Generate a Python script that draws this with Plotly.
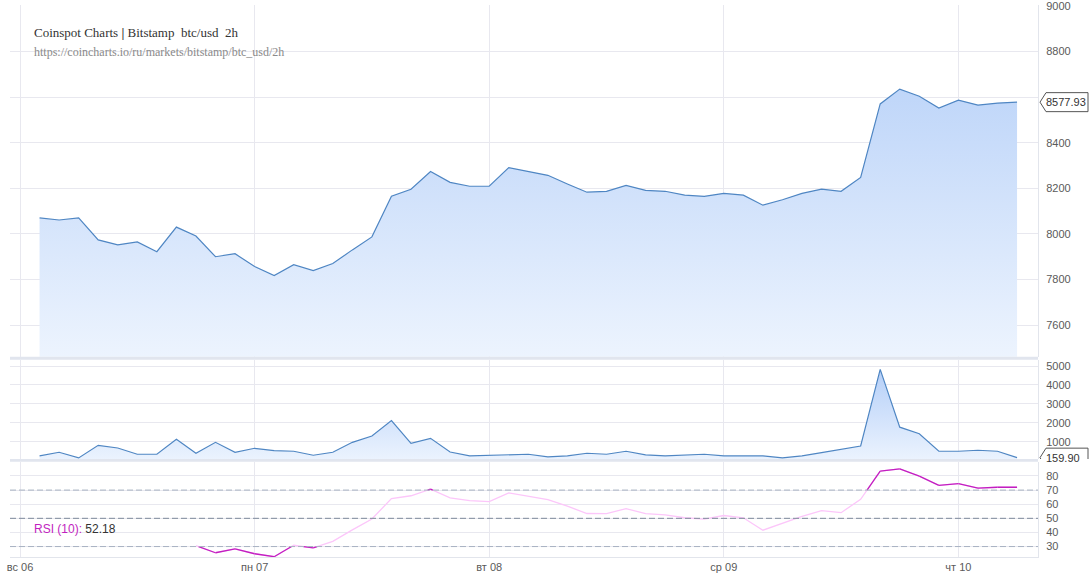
import plotly.graph_objects as go
from plotly.subplots import make_subplots
import pandas as pd

# ---------------- data ----------------
first_time = "2019-10-06 02:00"
n_points = 51
price = [8070, 8061, 8070, 7974, 7952, 7965, 7922, 8030, 7991, 7900,
         7913, 7857, 7817, 7865, 7839, 7870, 7930, 7987, 8165, 8196,
         8274, 8226, 8209, 8209, 8291, 8274, 8257, 8219, 8183, 8187,
         8213, 8191, 8187, 8170, 8165, 8178, 8170, 8126, 8150, 8178,
         8196, 8187, 8248, 8570, 8635, 8604, 8552, 8587, 8565, 8574, 8577.93]
volume = [251, 445, 146, 811, 670, 340, 340, 1126, 392, 969,
          445, 654, 529, 497, 287, 445, 969, 1300, 2121, 916,
          1178, 460, 251, 287, 310, 340, 199, 251, 392, 340,
          497, 303, 251, 287, 340, 251, 251, 251, 146, 251,
          424, 618, 775, 4823, 1770, 1419, 497, 497, 550, 497, 159.90]
rsi = [None] * 8 + [30.7, 25.6, 28.4, 24.9, 22.8, 30.9, 29.1, 33.7, 41.8, 49.5,
                    64.0, 66.0, 70.7, 64.5, 62.6, 61.8, 68.0, 65.9, 63.3, 58.6,
                    53.4, 53.3, 56.8, 53.3, 52.4, 50.4, 49.4, 52.0, 50.4, 41.6,
                    46.4, 51.3, 55.5, 54.0, 63.5, 83.4, 85.0, 79.9, 73.4, 74.6,
                    71.4, 72.0, 72.0]
rsi_label_value = "52.18"
day_ticks = ["2019-10-06", "2019-10-07", "2019-10-08", "2019-10-09", "2019-10-10"]
day_labels = ["вс 06", "пн 07", "вт 08", "ср 09", "чт 10"]
price_ticks = [7600, 7800, 8000, 8200, 8400, 8600, 8800, 9000]
price_tick_labels = ["7600", "7800", "8000", "8200", "8400", "", "8800", "9000"]
volume_ticks = [1000, 2000, 3000, 4000, 5000]
rsi_ticks = [30, 40, 50, 60, 70, 80]
rsi_levels = [70, 50, 30]

times = pd.date_range(first_time, periods=n_points, freq="2h")

# ---------------- RSI highlight segments (outside 30..70) ----------------
tms = [t.value / 1e6 for t in times]  # ms
dark_x, dark_y = [], []


def add_seg(t0, v0, t1, v1):
    dark_x.extend([pd.to_datetime(t0, unit="ms"), pd.to_datetime(t1, unit="ms"), None])
    dark_y.extend([v0, v1, None])


for k in range(len(rsi) - 1):
    a, b = rsi[k], rsi[k + 1]
    if a is None or b is None:
        continue
    t0, t1 = tms[k], tms[k + 1]
    for lev, above in ((70, True), (30, False)):
        ina = a > lev if above else a < lev
        inb = b > lev if above else b < lev
        if ina and inb:
            add_seg(t0, a, t1, b)
        elif ina or inb:
            f = (lev - a) / (b - a)
            tc = t0 + f * (t1 - t0)
            if ina:
                add_seg(t0, a, tc, lev)
            else:
                add_seg(tc, lev, t1, b)

# ---------------- figure ----------------
W, H = 1091, 582
ml, mr, mt, mb = 10, 53, 0, 25
ph = H - mt - mb


def frac(px_from_top):
    return (H - mb - px_from_top) / ph


fig = make_subplots(rows=3, cols=1, shared_xaxes=True, vertical_spacing=0)

line_col = "#4f86c3"
axis_font = dict(family="Liberation Sans, Arial, sans-serif", size=11, color="#5a5a5a")
grid_col = "#e8e8ef"

fig.add_trace(go.Scatter(
    x=times, y=price, mode="lines", line=dict(color=line_col, width=1.2),
    fill="tozeroy",
    fillgradient=dict(type="vertical", start=7461, stop=8640,
                      colorscale=[[0, "#edf4fe"], [1, "#bfd6f9"]]),
    hoverinfo="skip", showlegend=False), row=1, col=1)

fig.add_trace(go.Scatter(
    x=times, y=volume, mode="lines", line=dict(color=line_col, width=1.2),
    fill="tozeroy",
    fillgradient=dict(type="vertical", start=94, stop=4823,
                      colorscale=[[0, "#ebf3fe"], [1, "#b5cff8"]]),
    hoverinfo="skip", showlegend=False), row=2, col=1)

fig.add_trace(go.Scatter(
    x=times, y=rsi, mode="lines", line=dict(color="#fcc6fa", width=1.3),
    hoverinfo="skip", showlegend=False), row=3, col=1)
fig.add_trace(go.Scatter(
    x=dark_x, y=dark_y, mode="lines", line=dict(color="#c21fc0", width=1.3),
    hoverinfo="skip", showlegend=False, connectgaps=False), row=3, col=1)

# RSI levels
for lev in rsi_levels:
    fig.add_shape(type="line", xref="x3 domain", yref="y3", x0=0, x1=1, y0=lev, y1=lev,
                  line=dict(color="#7d8a9b" if lev == 50 else "#a8b2c2", width=1,
                            dash="6px,3px"), layer="above")

# x range
t_ref = pd.Timestamp(day_ticks[0])
hpp = 2.0 / 19.55  # hours per pixel
x_range = [t_ref - pd.Timedelta(hours=10 * hpp), t_ref + pd.Timedelta(hours=(1038 - 20) * hpp)]

for r in (1, 2, 3):
    fig.update_xaxes(row=r, col=1, range=x_range, tickvals=pd.to_datetime(day_ticks),
                     ticktext=day_labels, showgrid=True, gridcolor=grid_col, gridwidth=1,
                     showticklabels=(r == 3), tickfont=axis_font, ticks="", zeroline=False,
                     showline=(r == 3), linecolor="#e2e5ec", linewidth=1)

fig.update_layout(
    yaxis=dict(domain=[frac(355), 1], range=[7461, 9004], tickvals=price_ticks,
               ticktext=price_tick_labels),
    yaxis2=dict(domain=[frac(458), frac(358)], range=[94, 5330], tickvals=volume_ticks),
    yaxis3=dict(domain=[0, frac(461)], range=[22.6, 90], tickvals=rsi_ticks),
)
for ax in ("yaxis", "yaxis2", "yaxis3"):
    fig.layout[ax].update(side="right", showgrid=True, gridcolor=grid_col, gridwidth=1,
                          tickfont=axis_font, ticks="", zeroline=False, showline=True,
                          linecolor="#e2e5ec", linewidth=1, ticklabelstandoff=5,
                          ticklabeloverflow="allow")

# separators between panels
for top, bot in ((355, 358), (458, 461)):
    fig.add_shape(type="rect", xref="paper", yref="paper", x0=0, x1=1,
                  y0=frac(bot), y1=frac(top), fillcolor="#e1e5ee", line=dict(width=0),
                  layer="above")

# last value labels
for val, yref, txt in ((price[-1], "y", f"{price[-1]:.2f}"), (volume[-1], "y2", f"{volume[-1]:.2f}")):
    fig.add_shape(type="path", xref="paper", yref=yref, xsizemode="pixel", ysizemode="pixel",
                  xanchor=1, yanchor=val,
                  path="M 2,0 L 8,9.5 L 50,9.5 L 50,-9.5 L 8,-9.5 Z",
                  fillcolor="white", line=dict(color="#555", width=1), layer="above")
    fig.add_annotation(x=1, xref="paper", y=val, yref=yref, text=txt, showarrow=False,
                       xanchor="left", xshift=6, font=dict(family="Liberation Sans, Arial",
                                                          size=11, color="#333"))

# titles
serif = "Liberation Serif, Times New Roman, serif"
fig.add_annotation(x=0, xref="paper", xshift=22, y=1, yref="paper", yshift=-27,
                   text="Coinspot Charts <b>|</b> Bitstamp  btc/usd  2h", showarrow=False,
                   xanchor="left", yanchor="middle", font=dict(family=serif, size=13, color="#333"))
fig.add_annotation(x=0, xref="paper", xshift=22, y=1, yref="paper", yshift=-47,
                   text="https://coincharts.io/ru/markets/bitstamp/btc_usd/2h", showarrow=False,
                   xanchor="left", yanchor="middle", font=dict(family=serif, size=12, color="#8a8a8a"))
fig.add_annotation(x=0, xref="paper", xshift=22, y=frac(529), yref="paper",
                   text=f"<span style='color:#c21fc0'>RSI (10):</span> {rsi_label_value}",
                   showarrow=False, xanchor="left", yanchor="middle",
                   font=dict(family="Liberation Sans, Arial", size=12, color="#333"))

fig.update_layout(width=W, height=H, margin=dict(l=ml, r=mr, t=mt, b=mb),
                  paper_bgcolor="white", plot_bgcolor="white", showlegend=False)

fig.write_html("out.html")
